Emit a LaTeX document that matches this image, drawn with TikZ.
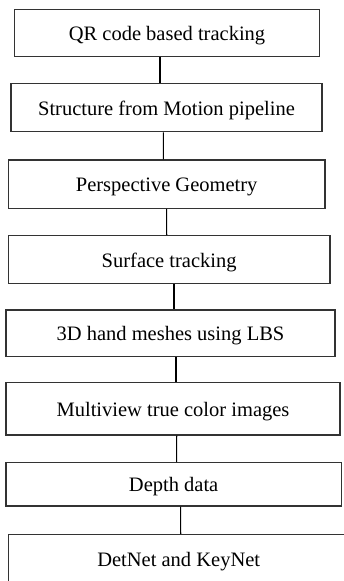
\documentclass[tikz,border=0pt]{standalone}
\usepackage{fontspec}
\setmainfont{Liberation Serif}
\usetikzlibrary{positioning}
\tikzset{step box/.style={rectangle,draw=black!80,line width=1.1pt,fill=white,inner sep=0pt,text height=15pt,text depth=0pt,font=\fontsize{20.5}{24}\selectfont}}

\begin{document}
\begin{tikzpicture}[x=1pt,y=-1pt]
    	\useasboundingbox (0,0) rectangle (343,581);
    	\node[step box,minimum width=305.4pt,minimum height=46.7pt] (qr) at (167,32.7) {QR code based tracking};
    	\node[step box,minimum width=311pt,minimum height=48.4pt] (sfm) at (166.5,107.5) {Structure from Motion pipeline};
    	\node[step box,minimum width=316.7pt,minimum height=48.3pt] (persp) at (166.65,184.15) {Perspective Geometry};
    	\node[step box,minimum width=321.7pt,minimum height=47.6pt] (surf) at (169.15,259.5) {Surface tracking};
    	\node[step box,minimum width=329pt,minimum height=46.7pt] (lbs) at (170.5,333.35) {3D hand meshes using LBS};
    	\node[step box,minimum width=334pt,minimum height=52.3pt] (multi) at (173,408.85) {Multiview true color images};
    	\node[step box,minimum width=335.3pt,minimum height=43.3pt] (depth) at (173.65,484.35) {Depth data};
    	\node[step box,minimum width=341pt,minimum height=50pt] (detnet) at (178.7,559.3) {DetNet and KeyNet};
    
    	\path[draw,line width=1.1pt]
    	([xshift=-7pt]qr.south) edge ([xshift=-6.5pt]sfm.north)
    	([xshift=-3.2pt]sfm.south) edge ([xshift=-3.35pt]persp.north)
    	([xshift=0pt]persp.south) edge ([xshift=-2.45pt]surf.north)
    	([xshift=4.85pt]surf.south) edge ([xshift=3.5pt]lbs.north)
    	([xshift=5.5pt]lbs.south) edge ([xshift=3pt]multi.north)
    	([xshift=3.7pt]multi.south) edge ([xshift=3pt]depth.north)
    	([xshift=7pt]depth.south) edge ([xshift=2pt]detnet.north);
\end{tikzpicture}
\end{document}
